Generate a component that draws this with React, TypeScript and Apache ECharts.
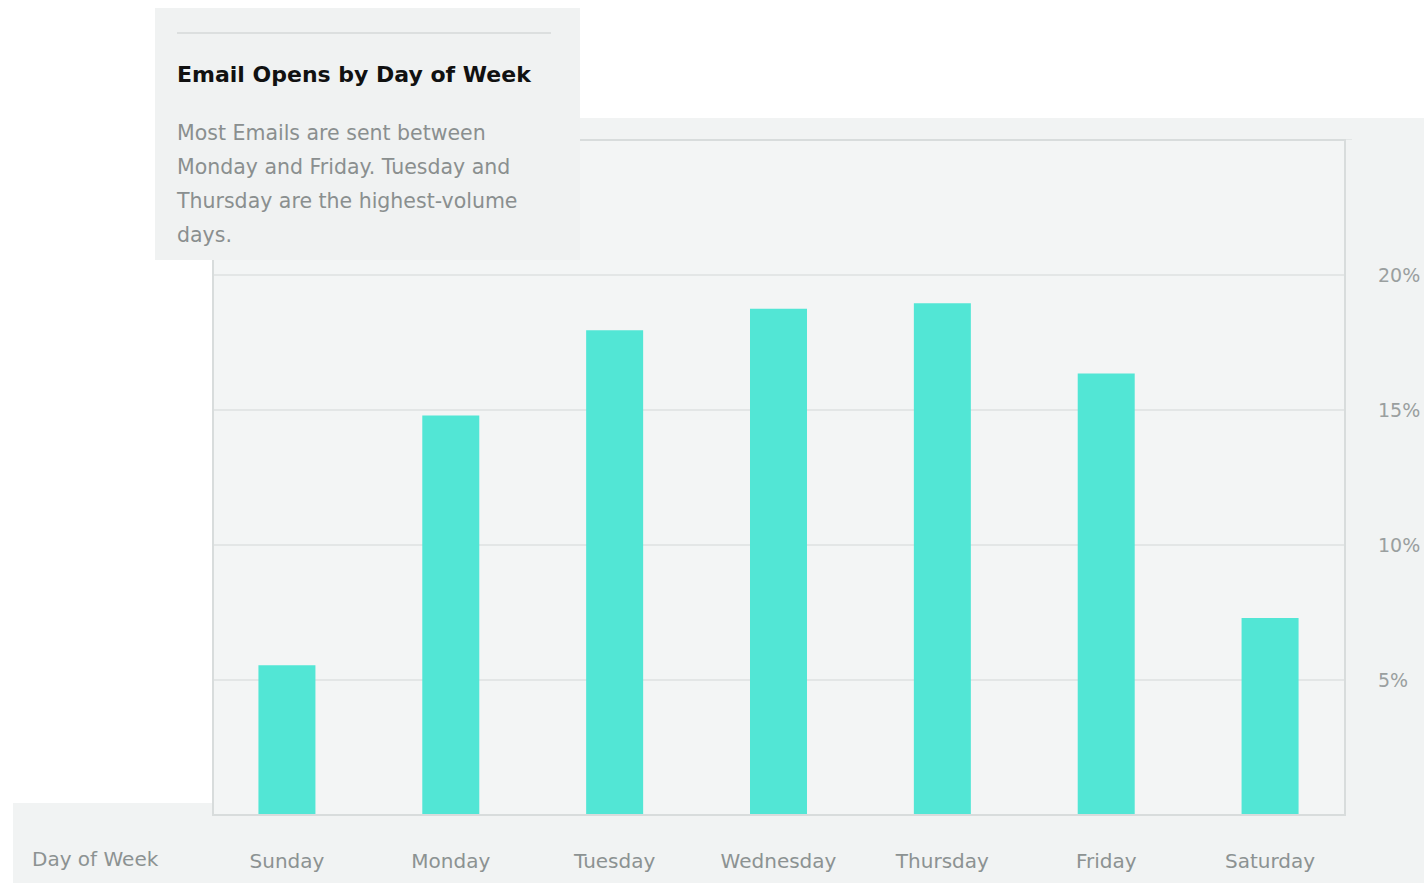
import React, { useEffect, useRef } from "react";
import * as echarts from "echarts";

const days = ["Sunday", "Monday", "Tuesday", "Wednesday", "Thursday", "Friday", "Saturday"];
const opens = [5.55, 14.8, 17.95, 18.75, 18.95, 16.35, 7.3];
const yTicks = [5, 10, 15, 20];
const title = "Email Opens by Day of Week";
const descLines = [
  "Most Emails are sent between",
  "Monday and Friday. Tuesday and",
  "Thursday are the highest-volume",
  "days.",
];
const axisName = "Day of Week";

export default function App() {
  const ref = useRef<HTMLDivElement>(null);
  useEffect(() => {
    const chart = echarts.init(ref.current!, null, { renderer: "svg" });
    const font = "'DejaVu Sans', Verdana, sans-serif";
    chart.setOption({
      animation: false,
      backgroundColor: "#ffffff",
      grid: { left: 205, right: 72, top: 140, bottom: 68 },
      xAxis: {
        type: "category",
        data: days,
        axisLine: { show: false },
        axisTick: { show: false },
        axisLabel: { color: "#8c9292", fontSize: 20, fontFamily: font, margin: 36 },
      },
      yAxis: {
        type: "value",
        position: "right",
        min: 0,
        max: 25,
        interval: 5,
        axisLine: { show: false },
        axisTick: { show: false },
        splitLine: { lineStyle: { color: "#e3e6e6", width: 2 } },
        axisLabel: {
          color: "#9a9f9f",
          fontSize: 19,
          fontFamily: font,
          margin: 26,
          formatter: (v: number) => (yTicks.includes(v) ? v + "%" : ""),
        },
      },
      graphic: [
        { type: "rect", z: -10, shape: { x: 213, y: 118, width: 1211, height: 765 }, style: { fill: "#f1f3f3" } },
        { type: "rect", z: -10, shape: { x: 13, y: 803, width: 1411, height: 80 }, style: { fill: "#f1f3f3" } },
        { type: "rect", z: -9, shape: { x: 213, y: 140, width: 1132, height: 675 }, style: { fill: "#f3f5f5" } },
        { type: "rect", z: 5, shape: { x: 200, y: 140, width: 12, height: 662 }, style: { fill: "#ffffff" } },
        { type: "rect", z: 5, shape: { x: 200, y: 803, width: 12, height: 20 }, style: { fill: "#f1f3f3" } },
        { type: "rect", z: 5, shape: { x: 1346, y: 140, width: 12, height: 680 }, style: { fill: "#f1f3f3" } },
        { type: "rect", z: 6, shape: { x: 213, y: 140, width: 1132, height: 675 }, style: { fill: "none", stroke: "#d8dcdc", lineWidth: 2 } },
        { type: "rect", z: 10, shape: { x: 155, y: 8, width: 425, height: 252 }, style: { fill: "#f0f2f2" } },
        { type: "line", z: 11, shape: { x1: 177, y1: 33, x2: 551, y2: 33 }, style: { stroke: "#dcdfdf", lineWidth: 2 } },
        {
          type: "text", z: 11, x: 177, y: 74,
          style: { text: title, fill: "#111111", font: "bold 22px " + font, textVerticalAlign: "middle" },
        },
        ...descLines.map((t, i) => ({
          type: "text", z: 11, x: 177, y: 133 + i * 34,
          style: { text: t, fill: "#8a8f8f", font: "20.5px " + font, textVerticalAlign: "middle" },
        })),
        {
          type: "text", z: 11, x: 32, y: 859,
          style: { text: axisName, fill: "#8c9292", font: "20px " + font, textVerticalAlign: "middle" },
        },
      ],
      series: [
        {
          type: "bar",
          data: opens,
          barWidth: 57,
          itemStyle: { color: "#52e6d5" },
        },
      ],
    });
    return () => chart.dispose();
  }, []);
  return <div ref={ref} style={{ position: "fixed", left: 0, top: 0, width: 1424, height: 883 }} />;
}
